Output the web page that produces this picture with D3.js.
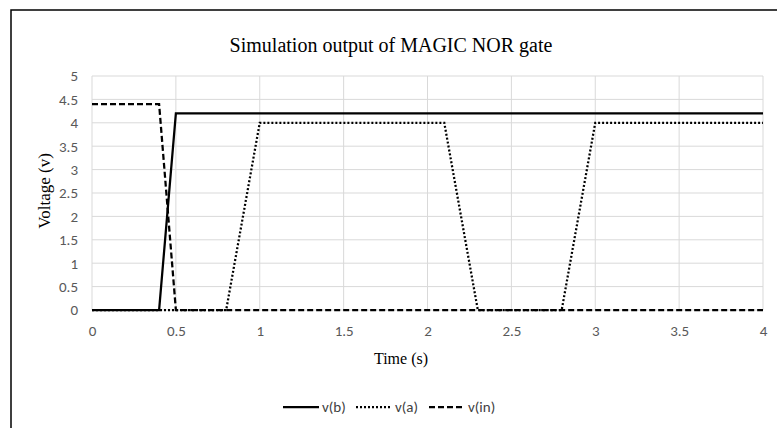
<!DOCTYPE html>
<html>
<head>
<meta charset="utf-8">
<script src="https://cdnjs.cloudflare.com/ajax/libs/d3/7.8.5/d3.min.js"></script>
<style>
  body { margin: 0; background: #fff; }
  .serif { font-family: "Liberation Serif", "DejaVu Serif", serif; fill: #000; }
  .leg { font-family: Carlito, "Open Sans", "Liberation Sans", sans-serif; font-size: 15px; fill: #404040; }
</style>
</head>
<body>
<div id="chart"></div>
<script>
// ---- data ----
var tB  = [0, 0.4, 0.5, 4];
var vB  = [0, 0, 4.2, 4.2];
var tA  = [0, 0.8, 1.0, 2.1, 2.3, 2.8, 3.0, 4];
var vA  = [0, 0, 4.0, 4.0, 0, 0, 4.0, 4.0];
var tIn = [0, 0.4, 0.5, 4];
var vIn = [4.4, 4.4, 0, 0];

var seriesNames = ["v(b)", "v(a)", "v(in)"];
var xTicks = [0, 0.5, 1, 1.5, 2, 2.5, 3, 3.5, 4];
var yTicks = [0, 0.5, 1, 1.5, 2, 2.5, 3, 3.5, 4, 4.5, 5];

var W = 777, H = 428;
var plotL = 92, plotR = 763, plotT = 76, plotB = 310;

var svg = d3.select("#chart").append("svg")
    .attr("width", W)
    .attr("height", H);

// chart frame (runs off the right / bottom of the picture)
svg.append("rect")
    .attr("x", 11).attr("y", 10)
    .attr("width", 800).attr("height", 450)
    .attr("fill", "#fff")
    .attr("stroke", "#000")
    .attr("stroke-width", 1.5);

var x = d3.scaleLinear().domain([0, 4]).range([plotL, plotR]);
var y = d3.scaleLinear().domain([0, 5]).range([plotB, plotT]);

// gridlines
svg.append("g")
    .selectAll("line")
    .data(yTicks)
    .enter().append("line")
    .attr("x1", plotL).attr("x2", plotR)
    .attr("y1", function(d) { return y(d); })
    .attr("y2", function(d) { return y(d); })
    .attr("stroke", "#d9d9d9").attr("stroke-width", 1);

svg.append("g")
    .selectAll("line")
    .data(xTicks)
    .enter().append("line")
    .attr("y1", plotT).attr("y2", plotB)
    .attr("x1", function(d) { return x(d); })
    .attr("x2", function(d) { return x(d); })
    .attr("stroke", "#d9d9d9").attr("stroke-width", 1);

// axes (labels only)
function styleAxis(g) {
    g.select(".domain").remove();
    g.attr("font-family", "Carlito, 'Open Sans', 'Liberation Sans', sans-serif")
     .attr("font-size", 15);
    g.selectAll(".tick text").attr("fill", "#595959");
}

var xAxis = d3.axisBottom(x).tickValues(xTicks).tickSize(0).tickPadding(15)
    .tickFormat(d3.format("~g"));
svg.append("g")
    .attr("transform", "translate(0," + plotB + ")")
    .call(xAxis)
    .call(styleAxis);

var yAxis = d3.axisLeft(y).tickValues(yTicks).tickSize(0).tickPadding(14)
    .tickFormat(d3.format("~g"));
svg.append("g")
    .attr("transform", "translate(" + plotL + ",0)")
    .call(yAxis)
    .call(styleAxis);

// series
var line = d3.line()
    .x(function(d) { return x(d[0]); })
    .y(function(d) { return y(d[1]); });

var series = [
  { name: seriesNames[0], pts: d3.zip(tB, vB),   dash: null },
  { name: seriesNames[1], pts: d3.zip(tA, vA),   dash: "2,2" },
  { name: seriesNames[2], pts: d3.zip(tIn, vIn), dash: "6,3" }
];

svg.append("g")
    .selectAll("path")
    .data(series)
    .enter().append("path")
    .attr("d", function(d) { return line(d.pts); })
    .attr("fill", "none")
    .attr("stroke", "#000")
    .attr("stroke-width", 2.25)
    .attr("stroke-dasharray", function(d) { return d.dash; });

// titles
svg.append("text")
    .attr("class", "serif")
    .attr("x", 391).attr("y", 52)
    .attr("text-anchor", "middle")
    .attr("font-size", 20)
    .text("Simulation output of MAGIC NOR gate");

svg.append("text")
    .attr("class", "serif")
    .attr("x", 401).attr("y", 364)
    .attr("text-anchor", "middle")
    .attr("font-size", 16)
    .text("Time (s)");

svg.append("text")
    .attr("class", "serif")
    .attr("transform", "translate(50,191) rotate(-90)")
    .attr("text-anchor", "middle")
    .attr("font-size", 17)
    .text("Voltage (v)");

// legend
var legX = [283, 356, 429];
var leg = svg.append("g").selectAll("g")
    .data(series)
    .enter().append("g")
    .attr("transform", function(d, i) { return "translate(" + legX[i] + ",407)"; });

leg.append("line")
    .attr("x1", 0).attr("x2", 36)
    .attr("stroke", "#000")
    .attr("stroke-width", 2.25)
    .attr("stroke-dasharray", function(d) { return d.dash; });

leg.append("text")
    .attr("class", "leg")
    .attr("x", 39).attr("y", 5)
    .text(function(d) { return d.name; });
</script>
</body>
</html>
